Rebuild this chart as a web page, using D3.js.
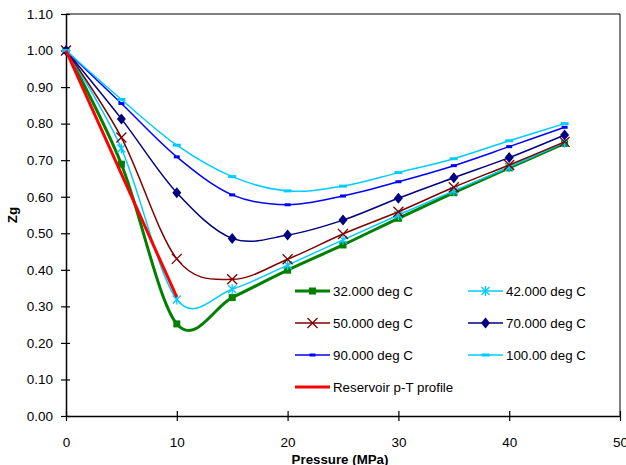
<!DOCTYPE html>
<html lang="en">
<head>
<meta charset="UTF-8">
<title>Zg vs Pressure</title>
<script src="https://d3js.org/d3.v7.min.js"></script>
<style>
  body { margin: 0; background: #fff; }
  text { font-family: "Liberation Sans", Arial, sans-serif; fill: #000; }
</style>
</head>
<body>
<script>
const width = 626, height = 465

// data
const pressure = [0, 5, 10, 15, 20, 25, 30, 35, 40, 45]
const z32  = [1.00, 0.689, 0.252, 0.324, 0.399, 0.468, 0.541, 0.611, 0.679, 0.746]
const z42  = [1.00, 0.732, 0.319, 0.347, 0.413, 0.482, 0.550, 0.616, 0.681, 0.748]
const z50  = [1.00, 0.762, 0.430, 0.374, 0.429, 0.498, 0.559, 0.626, 0.687, 0.750]
const z70  = [1.00, 0.813, 0.611, 0.486, 0.495, 0.536, 0.596, 0.652, 0.707, 0.769]
const z90  = [1.00, 0.855, 0.709, 0.605, 0.578, 0.602, 0.641, 0.685, 0.737, 0.790]
const z100 = [1.00, 0.866, 0.741, 0.655, 0.616, 0.629, 0.666, 0.704, 0.753, 0.800]
const profileP = [0, 10]
const profileZ = [1.00, 0.325]

const xTicks = [0, 10, 20, 30, 40, 50]
const yTicks = d3.range(0, 12).map(i => i / 10)

const series = [
  {name: "32.000 deg C", vals: z32,  color: "#008000", w: 3,   marker: "square"},
  {name: "42.000 deg C", vals: z42,  color: "#00ccff", w: 1.5, marker: "star"},
  {name: "50.000 deg C", vals: z50,  color: "#800000", w: 1.5, marker: "x"},
  {name: "70.000 deg C", vals: z70,  color: "#000080", w: 1.5, marker: "diamond"},
  {name: "90.000 deg C", vals: z90,  color: "#0000ff", w: 1.5, marker: "dash"},
  {name: "100.00 deg C", vals: z100, color: "#00ccff", w: 1.5, marker: "wdash"}
]

const svg = d3.select("body").append("svg")
  .attr("width", width).attr("height", height)

const x = d3.scaleLinear().domain([0, 50]).range([66, 620])
const y = d3.scaleLinear().domain([0, 1.1]).range([416, 14])

// frame
svg.append("line").attr("x1", 66).attr("x2", 620).attr("y1", 14).attr("y2", 14)
  .attr("stroke", "#000").attr("stroke-width", 1)
svg.append("line").attr("x1", 620).attr("x2", 620).attr("y1", 14).attr("y2", 416)
  .attr("stroke", "#000").attr("stroke-width", 1)

// axes
const xAxis = d3.axisBottom(x).tickValues(xTicks).tickFormat(d3.format("d"))
  .tickSizeInner(5).tickSizeOuter(0).tickPadding(16)
const yAxis = d3.axisLeft(y).tickValues(yTicks).tickFormat(d3.format(".2f"))
  .tickSizeInner(5).tickSizeOuter(0).tickPadding(8)

const gx = svg.append("g").attr("transform", "translate(0,416)").call(xAxis)
const gy = svg.append("g").attr("transform", "translate(66,0)").call(yAxis)
;[gx, gy].forEach(g => {
  g.select(".domain").attr("stroke", "#000").attr("stroke-width", 1.5)
  g.selectAll(".tick line").attr("stroke", "#000").attr("stroke-width", 1.2)
  g.selectAll(".tick text").attr("font-size", 13.5)
    .style("font-family", '"Liberation Sans", Arial, sans-serif').attr("fill", "#000")
})
gx.selectAll(".tick line").attr("y1", -5).attr("y2", 5)
gy.selectAll(".tick line").attr("x1", 4).attr("x2", -5)
gx.selectAll(".tick text").attr("dy", "0.35em").attr("y", 26)

// axis titles
svg.append("text").attr("x", 340).attr("y", 464).attr("text-anchor", "middle")
  .attr("font-size", 13.3).attr("font-weight", "bold").text("Pressure (MPa)")
svg.append("text").attr("transform", "translate(17,215) rotate(-90)")
  .attr("text-anchor", "middle").attr("font-size", 13.3).attr("font-weight", "bold").text("Zg")

// markers
function marker(g, type, color) {
  if (type === "square") {
    g.append("rect").attr("x", -3.5).attr("y", -3.5).attr("width", 7).attr("height", 7).attr("fill", color)
  } else if (type === "star") {
    g.append("path").attr("d", "M-4,-4L4,4M-4,4L4,-4M0,-5L0,5")
      .attr("stroke", color).attr("stroke-width", 1.3).attr("fill", "none")
  } else if (type === "x") {
    g.append("path").attr("d", "M-5,-5L5,5M-5,5L5,-5")
      .attr("stroke", color).attr("stroke-width", 1.3).attr("fill", "none")
  } else if (type === "diamond") {
    g.append("path").attr("d", "M0,-5.5L4.5,0L0,5.5L-4.5,0Z").attr("fill", color)
  } else if (type === "dash") {
    g.append("rect").attr("x", -3).attr("y", -1.5).attr("width", 6).attr("height", 3).attr("fill", color)
  } else if (type === "wdash") {
    g.append("rect").attr("x", -4).attr("y", -1.5).attr("width", 8).attr("height", 3).attr("fill", color)
  }
}

const line = d3.line().x(d => x(d[0])).y(d => y(d[1])).curve(d3.curveCardinal.tension(0))

const plot = svg.append("g")
series.forEach(s => {
  const pts = pressure.map((p, i) => [p, s.vals[i]])
  plot.append("path").datum(pts).attr("d", line)
    .attr("fill", "none").attr("stroke", s.color).attr("stroke-width", s.w)
  pts.forEach(p => {
    const g = plot.append("g").attr("transform", `translate(${x(p[0])},${y(p[1])})`)
    marker(g, s.marker, s.color)
  })
})

// reservoir profile
plot.append("path").datum(profileP.map((p, i) => [p, profileZ[i]]))
  .attr("d", d3.line().x(d => x(d[0])).y(d => y(d[1])))
  .attr("fill", "none").attr("stroke", "#ff0000").attr("stroke-width", 3)

// legend
const legendItems = series.concat([{name: "Reservoir p-T profile", color: "#ff0000", w: 3, marker: null}])
const legend = svg.append("g")
legendItems.forEach((s, i) => {
  const col = i % 2, row = Math.floor(i / 2)
  const lx = col === 0 ? 295 : 468
  const ly = 291 + row * 32
  const g = legend.append("g").attr("transform", `translate(${lx},${ly})`)
  g.append("line").attr("x1", 0).attr("x2", 35).attr("y1", 0).attr("y2", 0)
    .attr("stroke", s.color).attr("stroke-width", s.w)
  if (s.marker) {
    const m = g.append("g").attr("transform", "translate(17.5,0)")
    marker(m, s.marker, s.color)
  }
  g.append("text").attr("x", 38).attr("y", 4.8).attr("font-size", 13.3).text(s.name)
})
</script>
</body>
</html>
